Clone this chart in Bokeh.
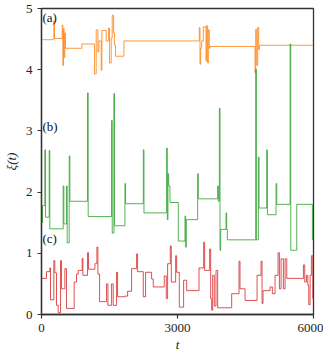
from bokeh.plotting import figure
from bokeh.models import Range1d, FixedTicker, Label
from bokeh.embed import file_html
from bokeh.resources import INLINE

# series (a) orange
t_a = [0, 272, 287, 456, 471, 486, 500, 515, 530, 891,
       1170, 1207, 1244, 1266, 1281, 1318, 1332, 1428, 1479, 1501,
       1538, 1560, 1590, 1612, 1634, 1818, 3481, 3496, 3511, 3533,
       3570, 3629, 3643, 3665, 3680, 3702, 3717, 4710, 4725, 4747,
       4769, 4791, 4806, 6000]
y_a = [4.49, 4.80, 4.51, 4.73, 4.07, 4.67, 4.20, 4.60, 4.35, 4.42,
       3.93, 4.65, 4.29, 4.47, 4.47, 3.99, 4.64, 4.47, 4.68, 4.11,
       4.52, 4.89, 4.60, 4.40, 4.22, 4.47, 4.69, 4.09, 4.35, 4.47,
       4.70, 4.14, 4.72, 4.11, 4.65, 4.35, 4.38, 3.95, 4.66, 4.07,
       4.69, 4.33, 4.40, 4.40]

# series (b) green
t_b = [0, 22, 74, 88, 169, 184, 478, 493, 552, 567,
       611, 626, 1016, 1030, 1546, 1560, 1597, 1612, 1840, 1855,
       2245, 2260, 2760, 2775, 2789, 2804, 2834, 3018, 3165, 3180,
       3194, 3444, 3459, 3886, 3901, 3923, 3938, 3952, 4070, 4085,
       4100, 4725, 4740, 4784, 4799, 4968, 4983, 5174, 5189, 5483,
       5498, 5630, 5976, 6000]
y_b = [1.50, 1.78, 2.69, 1.59, 2.68, 1.40, 2.10, 1.48, 2.10, 1.17,
       2.59, 1.85, 3.62, 1.60, 3.17, 1.33, 3.61, 1.45, 2.14, 1.81,
       2.69, 1.66, 2.72, 1.55, 2.30, 2.10, 1.83, 1.20, 1.61, 1.10,
       1.55, 2.30, 1.89, 2.10, 1.85, 3.37, 1.05, 1.39, 1.66, 1.39,
       1.22, 4.01, 1.22, 2.57, 1.74, 2.69, 1.63, 2.14, 1.80, 4.42,
       1.05, 1.80, 1.22, 1.22]

# series (c) red
t_c = [0, 110, 184, 199, 272, 294, 331, 368, 420, 442,
       515, 552, 721, 773, 810, 898, 913, 1016, 1038, 1178,
       1222, 1244, 1281, 1435, 1465, 1546, 1582, 1656, 1678, 1840,
       1899, 1987, 2098, 2120, 2245, 2296, 2429, 2466, 2708, 2753,
       2782, 2841, 2863, 2959, 2981, 3040, 3135, 3202, 3474, 3577,
       3599, 3709, 3732, 3754, 3776, 3812, 3849, 3886, 4195, 4357,
       4379, 4490, 4755, 4843, 4865, 4887, 5042, 5093, 5152, 5218,
       5248, 5285, 5336, 5373, 5410, 5778, 5807, 5844, 5874, 5895,
       5925, 5954, 5984, 6000]
y_c = [0.59, 0.70, 0.76, 0.24, 0.88, 0.68, 0.15, 0.03, 0.88, 0.42,
       0.75, 0.10, 0.53, 0.66, 0.72, 0.92, 0.64, 1.01, 0.74, 0.83,
       1.10, 0.66, 0.21, 0.50, 0.15, 0.50, 0.15, 0.69, 0.29, 0.30,
       0.38, 0.75, 0.99, 0.70, 0.29, 0.69, 0.58, 0.45, 0.63, 0.26,
       0.83, 1.12, 0.53, 0.96, 0.69, 0.12, 0.56, 0.39, 0.76, 1.18,
       0.72, 1.07, 0.26, 0.07, 0.64, 0.14, 0.72, 0.11, 0.34, 0.87,
       0.42, 0.23, 0.64, 0.87, 0.18, 0.39, 0.45, 0.34, 0.64, 1.01,
       0.42, 0.91, 0.42, 0.91, 0.59, 0.81, 0.53, 0.64, 0.48, 0.16,
       0.64, 0.96, 0.26, 0.26]

x_ticks = [0, 3000, 6000]
y_ticks = [0, 1, 2, 3, 4, 5]
panel_labels = ["(a)", "(b)", "(c)"]
panel_label_y = [4.86, 3.07, 1.24]

FONT = "Liberation Serif"

p = figure(frame_width=272, frame_height=306, output_backend="svg", toolbar_location=None,
           x_range=Range1d(0, 6000), y_range=Range1d(0, 5),
           min_border_left=32, min_border_right=10, min_border_top=8, min_border_bottom=34)

p.step(t_a, y_a, mode="after", line_color="#ff7f0e", line_width=1, line_alpha=0.8)
p.step(t_b, y_b, mode="after", line_color="#2ca02c", line_width=1, line_alpha=0.8)
p.step(t_c, y_c, mode="after", line_color="#d62728", line_width=1, line_alpha=0.8)

for txt, yy in zip(panel_labels, panel_label_y):
    p.add_layout(Label(x=0, y=yy, x_offset=1, text=txt, text_font=FONT,
                       text_font_size="13px", text_baseline="middle", text_color="#111"))

p.xgrid.visible = False
p.ygrid.visible = False
p.xaxis.ticker = FixedTicker(ticks=x_ticks)
p.yaxis.ticker = FixedTicker(ticks=y_ticks)
for ax in (p.xaxis[0], p.yaxis[0]):
    ax.axis_line_color = "#333"
    ax.axis_line_width = 1.3
    ax.major_tick_line_color = "#333"
    ax.major_tick_line_width = 1.2
    ax.major_tick_out = 4
    ax.major_tick_in = 0
    ax.minor_tick_line_color = None
    ax.major_label_text_font = FONT
    ax.major_label_text_font_size = "13px"
    ax.major_label_text_color = "#222"
    ax.axis_label_text_font = FONT
    ax.axis_label_text_font_size = "13px"
    ax.axis_label_text_font_style = "italic"
    ax.axis_label_text_color = "#222"
p.xaxis.axis_label = "t"
p.yaxis.axis_label = "ξ(t)"
p.xaxis.axis_label_standoff = 2
p.yaxis.axis_label_standoff = 4
p.outline_line_color = "#333"
p.outline_line_width = 1.3
p.outline_line_alpha = 1

open("out.html", "w").write(file_html(p, INLINE))
